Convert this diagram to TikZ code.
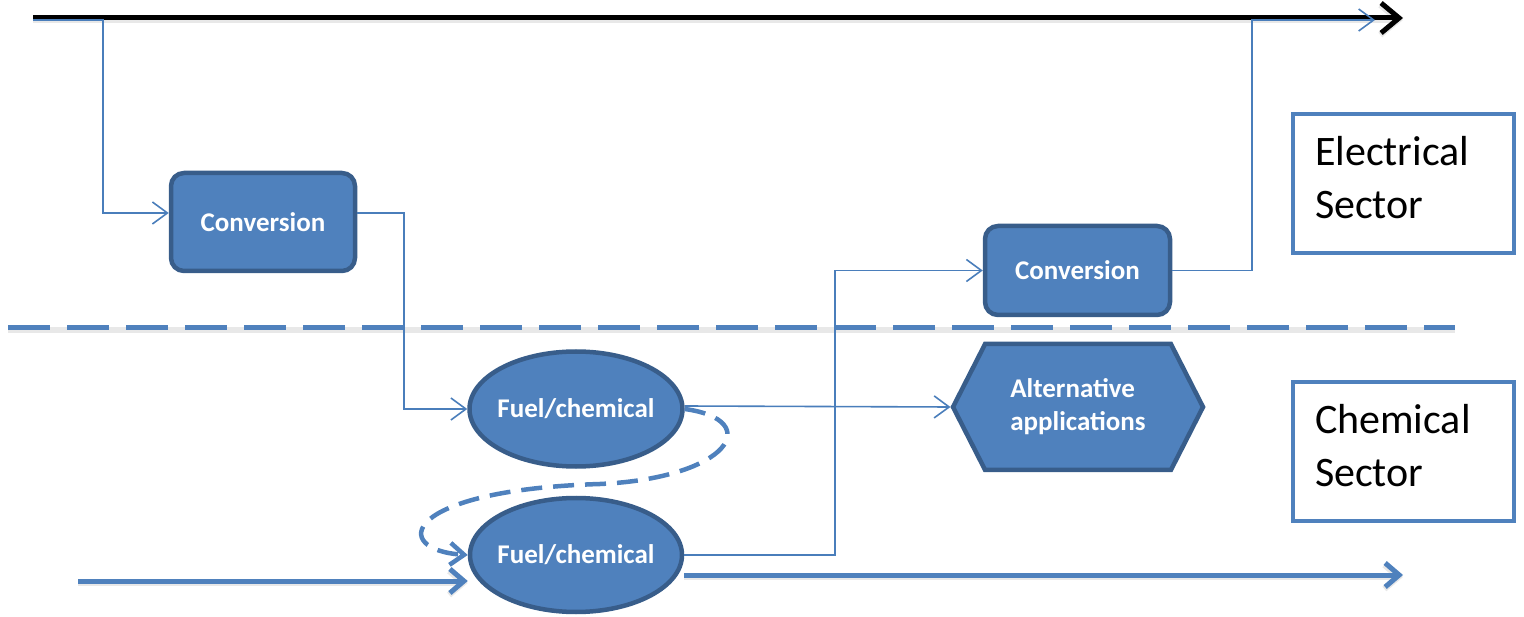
\documentclass[tikz,border=0pt]{standalone}
\usepackage{fontspec}
\setmainfont{Carlito}
\usetikzlibrary{arrows.meta,shapes.geometric,shapes.symbols}
\definecolor{fillblue}{HTML}{4F81BD}
\definecolor{edgeblue}{HTML}{385D8A}
\definecolor{lineblue}{HTML}{4A7EBB}
\begin{document}
\begin{tikzpicture}[x=1pt,y=-1pt,
  boxtext/.style={text=white, font=\fontsize{27}{33}\selectfont\bfseries},
  proc/.style={rectangle, rounded corners=13pt, fill=fillblue, draw=edgeblue, line width=4.5pt, boxtext},
  fuel/.style={ellipse, fill=fillblue, draw=edgeblue, line width=4.5pt, inner xsep=-8pt, inner ysep=0pt, boxtext},
  altshape/.style={signal, signal to=west and east, signal pointer angle=126, fill=fillblue, draw=edgeblue, line width=4.5pt, inner sep=0pt, align=left, boxtext},
  sector/.style={rectangle, draw=fillblue, line width=4pt, minimum width=221pt, minimum height=139pt, inner xsep=22pt, text width=177pt, align=left, font=\fontsize{42}{53}\selectfont},
  shadowed/.style={preaction={draw=black!9, line width=#1, transform canvas={yshift=-2pt}}},
  thinarrow/.style={draw=lineblue, line width=1.6pt, -{Straight Barb[length=15pt,width=22pt]}},
  thickarrow/.style={draw=fillblue, line width=5pt, shadowed=6pt, -{Straight Barb[length=14pt,width=24pt]}},
  mainarrow/.style={draw=black, line width=5pt, shadowed=6pt, -{Straight Barb[length=18pt,width=30pt]}},
  divider/.style={draw=fillblue, line width=5pt, shadowed=6pt, dash pattern=on 42pt off 17pt},
  loopline/.style={draw=fillblue, line width=4.5pt, dash pattern=on 21pt off 11pt, -{Straight Barb[length=14pt,width=22pt]}}
]
\useasboundingbox (0,0) rectangle (1524,617);

% coordinates
\coordinate (bstart) at (33,18);
\coordinate (bend) at (1403,18);
\coordinate (tstart) at (33,20);
\coordinate (tend) at (1375,20);
\coordinate (dstart) at (8,328);
\coordinate (dend) at (1455,328);
\coordinate (lowin) at (78,581);
\coordinate (lowout) at (1403,575);
\coordinate (loopmid) at (600,484);

% nodes
\node[proc, minimum width=184pt, minimum height=98pt] (C1) at (263,222) {Conversion};
\node[proc, minimum width=185pt, minimum height=89pt] (C2) at (1077.5,270.5) {Conversion};
\node[fuel, minimum width=213pt, minimum height=115pt] (F1) at (576,409) {Fuel/chemical};
\node[fuel, minimum width=212pt, minimum height=114pt] (F2) at (576,555) {Fuel/chemical};
\node[altshape, minimum width=250pt, minimum height=126pt] (A) at (1078,407) {Alternative\\applications};
\node[sector, execute at end node={\par\vspace*{12pt}}] (ES) at (1403.5,183.5) {Electrical\\Sector};
\node[sector, execute at end node={\par\vspace*{12pt}}] (CS) at (1403.5,451.5) {Chemical\\Sector};

% main black arrow
\draw[mainarrow] (bstart) -- (bend);
% divider
\draw[divider] (dstart) -- (dend);

% connectors
\draw[thinarrow] (tstart) -- ++(70,0) |- ([yshift=9pt]C1.west);
\draw[thinarrow] ([yshift=9pt]C1.east) -- ++(47,0) |- (F1.west);
\draw[thinarrow] ([yshift=3pt]F1.east) -- (A.west);
\draw[thinarrow] (F2.east) -- ++(151,0) |- (C2.west);
\draw[thinarrow] (C2.east) -- ++(80,0) |- (tend);
\draw[thickarrow] (lowin) -- ([yshift=-26pt]F2.west);
\draw[thickarrow] ([yshift=-20pt]F2.east) -- (lowout);
\draw[loopline] (F1.east) .. controls (765,420) and (730,478) .. (loopmid)
  .. controls (400,490) and (390,550) .. (F2.west);
\end{tikzpicture}
\end{document}
